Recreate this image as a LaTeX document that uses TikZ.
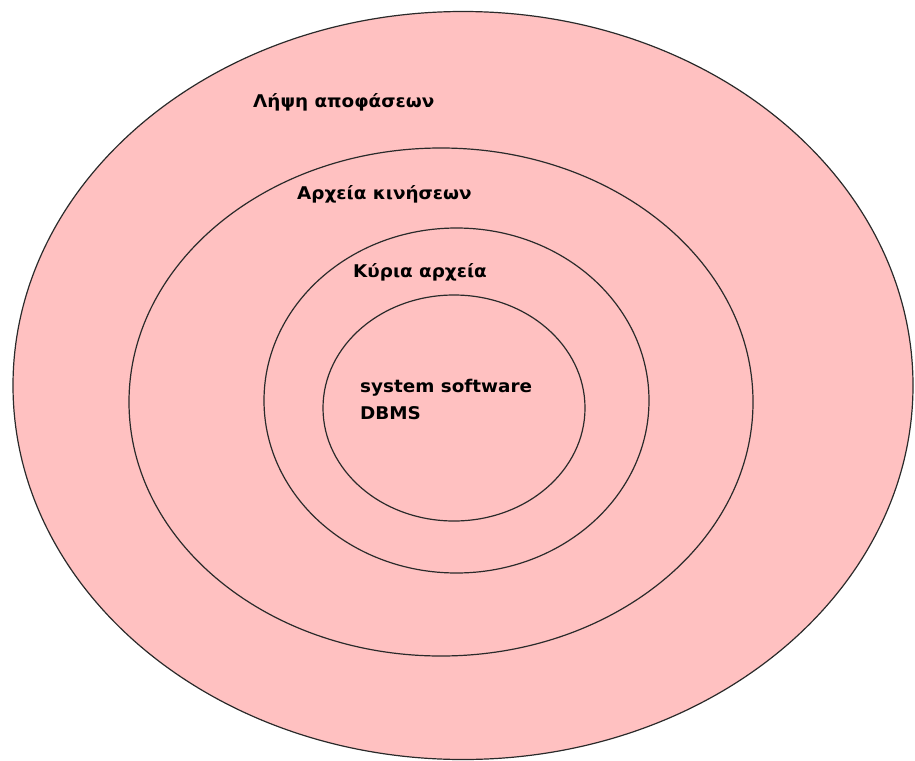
\documentclass[tikz,border=0pt]{standalone}
\usepackage{fontspec}
\setmainfont{DejaVu Sans}
\newfontfamily\ringfont[FakeStretch=1.05]{DejaVu Sans}
\usepackage{xcolor}
\definecolor{ringPink}{HTML}{FFC1C1}
\definecolor{ringLine}{HTML}{2A2A2A}

\begin{document}
\begin{tikzpicture}[x=1pt, y=-1pt,
    ringStyle/.style={draw=ringLine, line width=1.2pt, fill=ringPink},
    labelStyle/.style={inner sep=0pt, anchor=base west, font=\ringfont\bfseries\fontsize{17.5}{19}\selectfont, text=black}
]
    \useasboundingbox (0,0) rectangle (915,760);

    \draw[ringStyle] (463,385.5) ellipse [x radius=450, y radius=374];
    \draw[ringStyle] (441,402) ellipse [x radius=312, y radius=254];
    \draw[ringStyle] (456.5,400.5) ellipse [x radius=192.5, y radius=172.5];
    \draw[ringStyle] (454,408) ellipse [x radius=131, y radius=113];

    \node[labelStyle] (decisions) at (253,107) {Λήψη αποφάσεων};
    \node[labelStyle] (transactions) at (297,199) {Αρχεία κινήσεων};
    \node[labelStyle] (master) at (353,277) {Κύρια αρχεία};
    \node[labelStyle] (sysSoft) at (360,392) {system software};
    \node[labelStyle] (dbms) at (360,419) {DBMS};
\end{tikzpicture}
\end{document}
